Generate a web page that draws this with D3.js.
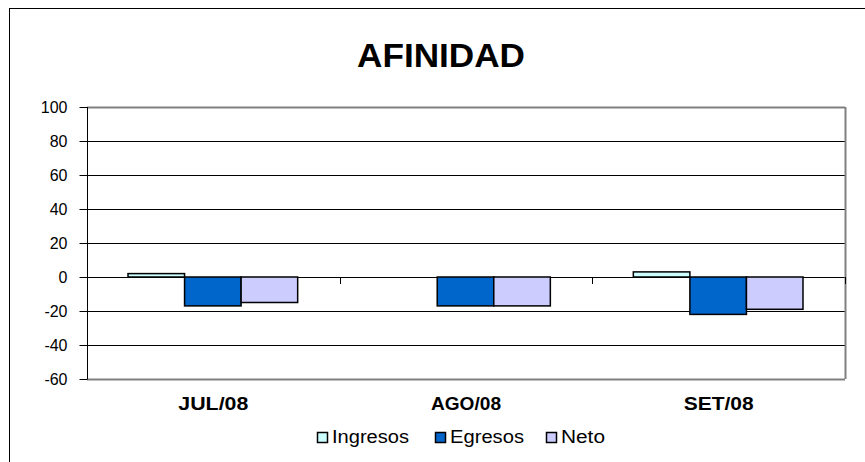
<!DOCTYPE html>
<html>
<head>
<meta charset="utf-8">
<script src="https://cdn.jsdelivr.net/npm/d3@7"></script>
<style>
body { margin: 0; background: #fff; }
text { font-family: "Liberation Sans", Arial, sans-serif; }
</style>
</head>
<body>
<div id="chart"></div>
<script>
var categories = ["JUL/08", "AGO/08", "SET/08"];
var seriesNames = ["Ingresos", "Egresos", "Neto"];
var ingresos = [2, 0, 3];
var egresos = [-17, -17, -22];
var neto = [-15, -17, -19];
var yTicks = [100, 80, 60, 40, 20, 0, -20, -40, -60];
var colors = ["#CCFFFF", "#0066CC", "#CCCCFF"];

var W = 865, H = 462;
var plotLeft = 87, plotRight = 845, plotTop = 107, plotBottom = 379;

var svg = d3.select("#chart").append("svg")
	.attr("width", W)
	.attr("height", H);

// outer frame (cut at the right and bottom)
svg.append("rect")
	.attr("x", 9.5).attr("y", 8.5)
	.attr("width", 900).attr("height", 500)
	.attr("fill", "white")
	.attr("stroke", "black")
	.attr("stroke-width", 1);

svg.append("text")
	.attr("x", 441).attr("y", 67)
	.attr("text-anchor", "middle")
	.attr("font-size", "33px")
	.attr("font-weight", "bold")
	.attr("textLength", 168)
	.attr("lengthAdjust", "spacingAndGlyphs")
	.text("AFINIDAD");

var y = d3.scaleLinear().domain([-60, 100]).range([plotBottom, plotTop]);
var x0 = d3.scaleBand().domain(categories).range([plotLeft, plotRight]);
var x1 = d3.scaleBand().domain(seriesNames).range([41, x0.bandwidth() - 42]);

// grid lines
svg.selectAll("line.grid")
	.data(yTicks)
	.enter()
	.append("line")
	.attr("class", "grid")
	.attr("x1", plotLeft).attr("x2", plotRight)
	.attr("y1", function (d) { return Math.round(y(d)) + 0.5; })
	.attr("y2", function (d) { return Math.round(y(d)) + 0.5; })
	.attr("stroke", function (d) { return (d === -60 || d === 100) ? "#808080" : "#000"; })
	.attr("stroke-width", function (d) { return (d === -60 || d === 100) ? 2 : 1; });

// right border of the plot area
svg.append("line")
	.attr("x1", plotRight + 0.5).attr("x2", plotRight + 0.5)
	.attr("y1", plotTop).attr("y2", plotBottom)
	.attr("stroke", "#808080")
	.attr("stroke-width", 2);

// bars
var rows = categories.map(function (c, i) {
	return [ingresos[i], egresos[i], neto[i]].map(function (v, k) {
		return { cat: c, name: seriesNames[k], value: v, color: colors[k] };
	});
});

var groups = svg.selectAll("g.cat")
	.data(rows)
	.enter()
	.append("g")
	.attr("class", "cat")
	.attr("transform", function (d, i) { return "translate(" + x0(categories[i]) + ",0)"; });

groups.selectAll("rect")
	.data(function (d) { return d.filter(function (e) { return e.value !== 0; }); })
	.enter()
	.append("rect")
	.attr("x", function (d) { return x1(d.name); })
	.attr("y", function (d) { return y(Math.max(0, d.value)); })
	.attr("width", x1.bandwidth())
	.attr("height", function (d) { return Math.abs(y(d.value) - y(0)); })
	.attr("fill", function (d) { return d.color; })
	.attr("stroke", "black")
	.attr("stroke-width", 1.5);

// y axis
var yAxis = svg.append("g")
	.attr("transform", "translate(" + (plotLeft + 0.5) + ",0)")
	.call(d3.axisLeft(y).tickValues(yTicks).tickSize(8).tickPadding(12)
		.tickFormat(function (d) { return String(d); }));
yAxis.select(".domain").attr("stroke", "#000").attr("d", "M0," + plotTop + "V" + plotBottom);
yAxis.selectAll(".tick line").attr("stroke", "#000");
yAxis.selectAll(".tick text").attr("font-size", "16px").attr("fill", "#000")
	.style("font-family", "'Liberation Sans', Arial, sans-serif");

// category ticks on the zero line
svg.selectAll("line.ctick")
	.data(categories.slice(1).concat(["end"]))
	.enter()
	.append("line")
	.attr("class", "ctick")
	.attr("x1", function (d, i) { return Math.round(plotLeft + (i + 1) * x0.bandwidth()) + 0.5; })
	.attr("x2", function (d, i) { return Math.round(plotLeft + (i + 1) * x0.bandwidth()) + 0.5; })
	.attr("y1", y(0)).attr("y2", y(0) + 7)
	.attr("stroke", "#000");

// category labels
svg.selectAll("text.cat")
	.data(categories)
	.enter()
	.append("text")
	.attr("class", "cat")
	.attr("x", function (d) { return x0(d) + x0.bandwidth() / 2; })
	.attr("y", 410)
	.attr("text-anchor", "middle")
	.attr("font-size", "18px")
	.attr("font-weight", "bold")
	.attr("textLength", 70)
	.attr("lengthAdjust", "spacingAndGlyphs")
	.text(function (d) { return d; });

// legend
var legendX = [317, 435, 546];
var legendLen = [77, 74, 44];
var legend = svg.selectAll("g.leg")
	.data(seriesNames)
	.enter()
	.append("g")
	.attr("class", "leg")
	.attr("transform", function (d, i) { return "translate(" + legendX[i] + ",432)"; });
legend.append("rect")
	.attr("x", 0.5).attr("y", 0.5)
	.attr("width", 10).attr("height", 10)
	.attr("fill", function (d, i) { return colors[i]; })
	.attr("stroke", "black")
	.attr("stroke-width", 1.5);
legend.append("text")
	.attr("x", 15).attr("y", 11)
	.attr("font-size", "18px")
	.attr("textLength", function (d, i) { return legendLen[i]; })
	.attr("lengthAdjust", "spacingAndGlyphs")
	.text(function (d) { return d; });
</script>
</body>
</html>
